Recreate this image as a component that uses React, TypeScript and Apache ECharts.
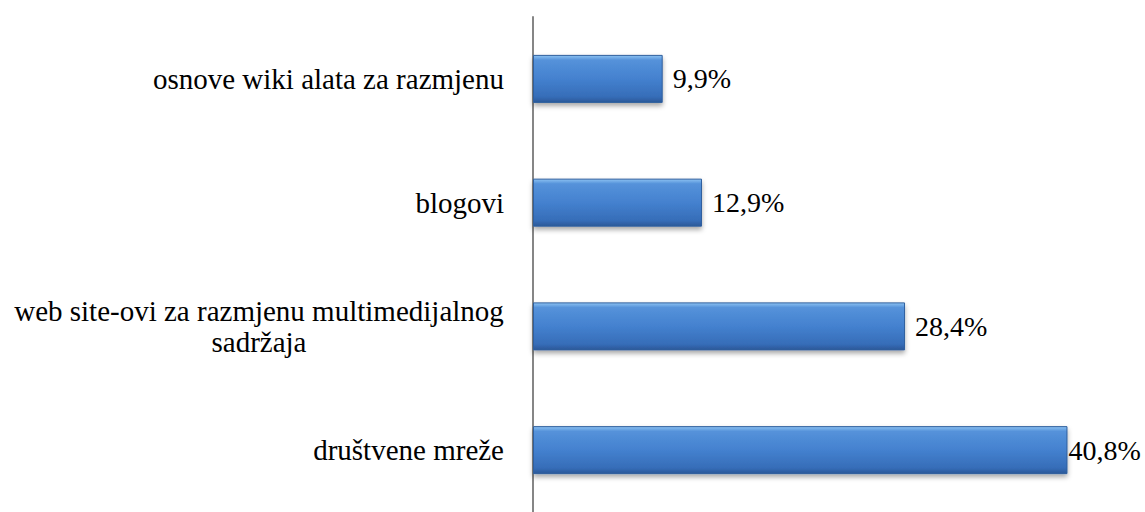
import React, { useEffect, useRef } from "react";
import * as echarts from "echarts";

const categories = [
  "društvene mreže",
  "web site-ovi za razmjenu multimedijalnog\nsadržaja",
  "blogovi",
  "osnove wiki alata za razmjenu",
];
const values = [40.8, 28.4, 12.9, 9.9];
const valueLabels = ["40,8%", "28,4%", "12,9%", "9,9%"];

const FONT = "'Liberation Serif', 'Times New Roman', serif";

export default function App() {
  const ref = useRef<HTMLDivElement>(null);
  useEffect(() => {
    if (!ref.current) return;
    const chart = echarts.init(ref.current, undefined, { renderer: "svg" });
    const grad = new echarts.graphic.LinearGradient(0, 0, 0, 1, [
      { offset: 0, color: "#8cc2f2" },
      { offset: 0.1, color: "#5592da" },
      { offset: 0.5, color: "#4481cf" },
      { offset: 0.88, color: "#366db8" },
      { offset: 1, color: "#2b5898" },
    ]);
    chart.setOption({
      animation: false,
      textStyle: { fontFamily: FONT },
      grid: { left: 533, top: 17, width: 589.5, height: 501 },
      xAxis: {
        type: "value",
        min: 0,
        max: 45,
        show: false,
      },
      yAxis: {
        type: "category",
        data: categories,
        axisLine: { show: true, lineStyle: { color: "#868686", width: 2 } },
        axisTick: { show: false },
        axisLabel: {
          margin: 29,
          fontFamily: FONT,
          fontSize: 29,
          color: "#000",
          align: "right",
          lineHeight: 31,
          formatter: (v: string) => {
            if (v.indexOf("\n") >= 0) {
              return v
                .split("\n")
                .map((s) => "{c|" + s + "}")
                .join("\n");
            }
            return v;
          },
          rich: {
            c: {
              width: 490,
              align: "center",
              fontFamily: FONT,
              fontSize: 29,
              color: "#000",
              lineHeight: 31,
            },
          },
        },
      },
      series: [
        {
          type: "bar",
          barWidth: 48,
          data: values.map((v, i) => ({
            value: v,
            label: { distance: i === 0 ? 1 : 10 },
          })),
          itemStyle: {
            color: grad,
            borderColor: "#2f5f9e",
            borderWidth: 1,
            shadowColor: "rgba(0,0,0,0.35)",
            shadowBlur: 5,
            shadowOffsetY: 3,
          },
          label: {
            show: true,
            position: "right",
            fontFamily: FONT,
            fontSize: 28,
            color: "#000",
            formatter: (p: any) => valueLabels[p.dataIndex],
          },
        },
      ],
    });
    return () => chart.dispose();
  }, []);
  return (
    <div
      ref={ref}
      style={{ position: "fixed", left: 0, top: 0, width: 1145, height: 512, background: "#fff" }}
    />
  );
}
